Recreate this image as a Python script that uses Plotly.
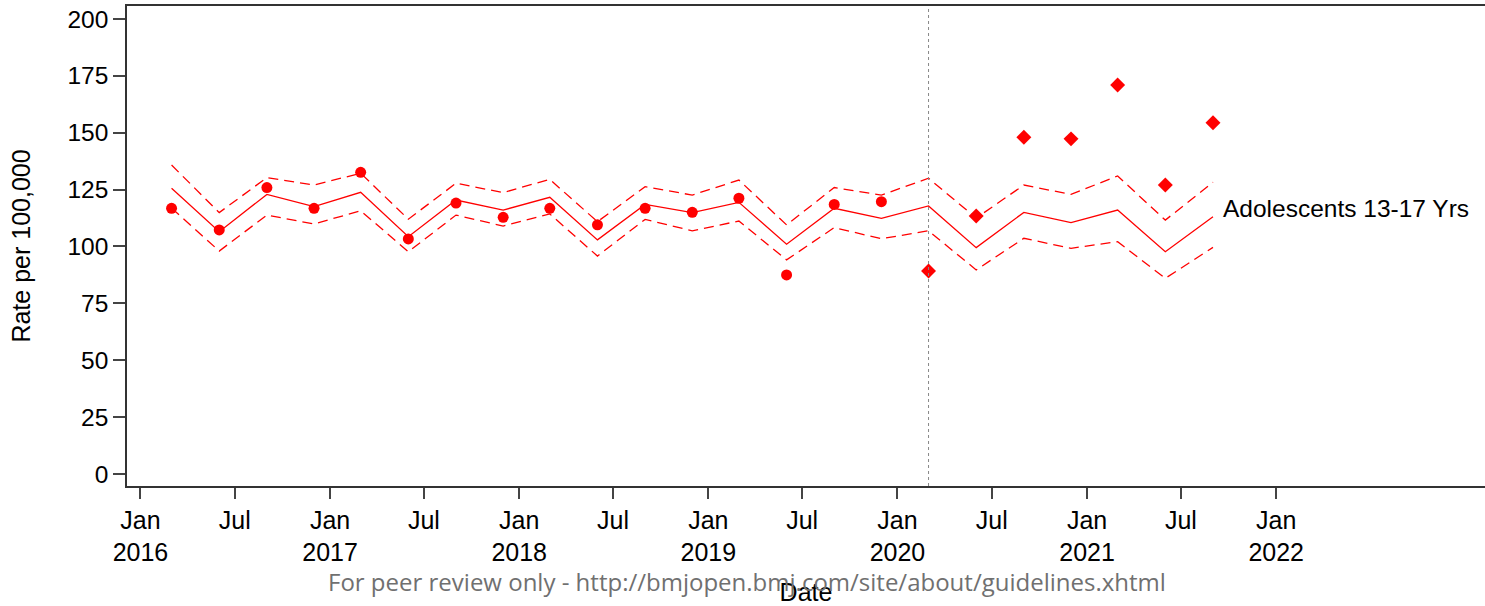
import pandas as pd
import plotly.graph_objects as go

# Quarterly rates per 100,000, adolescents aged 13-17
dates = pd.date_range("2016-03-01", periods=23, freq="3MS")

observed_pre = [116.8, 107.3, 125.9, 116.8, 132.6, 103.3, 119.1, 112.8,
                116.8, 109.5, 116.8, 115.0, 121.2, 87.5, 118.5, 119.7]
observed_post = [89.2, 113.4, 148.0, 147.3, 171.0, 127.0, 154.4]

predicted = [125.6, 106.5, 122.9, 117.5, 123.8, 104.3, 120.4, 116.0,
             121.6, 102.9, 118.5, 114.9, 119.4, 101.0, 116.8, 112.4,
             117.8, 99.5, 115.0, 110.5, 116.0, 97.7, 113.1]
upper = [135.8, 114.9, 130.3, 127.0, 132.2, 112.0, 127.8, 123.7,
         129.5, 110.9, 126.3, 122.6, 129.2, 109.5, 125.9, 122.6,
         130.0, 112.5, 127.0, 122.9, 131.0, 111.6, 128.2]
lower = [116.9, 98.0, 113.8, 109.9, 115.7, 97.7, 113.8, 109.0,
         114.3, 95.8, 111.9, 106.9, 111.2, 94.1, 108.3, 103.4,
         106.9, 89.7, 103.6, 99.2, 102.1, 86.0, 99.6]

tick_dates = pd.date_range("2016-01-01", "2022-01-01", freq="6MS")
tick_text = [f"Jan<br>{d.year}" if d.month == 1 else "Jul" for d in tick_dates]
y_ticks = [0, 25, 50, 75, 100, 125, 150, 175, 200]

pandemic_start = "2020-03-01"
series_label = "Adolescents 13-17 Yrs"

red = "#ff0000"
sans = "Liberation Sans, Arial, sans-serif"

n_pre = len(observed_pre)
fig = go.Figure()

fig.add_trace(go.Scatter(x=dates, y=upper, mode="lines",
                         line=dict(color=red, width=1.3, dash="10px,6px"),
                         hoverinfo="skip", showlegend=False))
fig.add_trace(go.Scatter(x=dates, y=lower, mode="lines",
                         line=dict(color=red, width=1.3, dash="10px,6px"),
                         hoverinfo="skip", showlegend=False))
fig.add_trace(go.Scatter(x=dates, y=predicted, mode="lines",
                         line=dict(color=red, width=1.3),
                         showlegend=False))
fig.add_trace(go.Scatter(x=dates[:n_pre], y=observed_pre, mode="markers",
                         marker=dict(color=red, size=11, symbol="circle"),
                         showlegend=False))
fig.add_trace(go.Scatter(x=dates[n_pre:], y=observed_post, mode="markers",
                         marker=dict(color=red, size=11.5, symbol="diamond"),
                         showlegend=False))

# Start of the pandemic period
fig.add_shape(type="line", xref="x", yref="paper",
              x0=pandemic_start, x1=pandemic_start, y0=0, y1=1,
              line=dict(color="#888888", width=1, dash="dot"))

fig.add_annotation(x="2021-09-17", y=116.5, xref="x", yref="y",
                   text=series_label, showarrow=False, xanchor="left",
                   font=dict(family=sans, size=24.5, color="#000000"))

# Plot area in pixels: left 127, right 1485, top 6, bottom 486
plot_l, plot_r, plot_t, plot_b = 127, 1485, 6, 486

fig.add_annotation(x=(747 - plot_l) / (plot_r - plot_l),
                   y=(plot_b - 581) / (plot_b - plot_t),
                   xref="paper", yref="paper", xanchor="center", yanchor="middle",
                   text="For peer review only - http://bmjopen.bmj.com/site/about/guidelines.xhtml",
                   showarrow=False,
                   font=dict(family="Open Sans, sans-serif", size=24, color="#707070"))

fig.update_layout(
    width=1485, height=606,
    margin=dict(l=plot_l, r=1485 - plot_r, t=plot_t, b=606 - plot_b),
    paper_bgcolor="white", plot_bgcolor="white",
    font=dict(family=sans, size=24, color="#000000"),
)

fig.update_xaxes(
    range=["2015-12-06", "2023-02-08"], automargin=False,
    tickmode="array", tickvals=tick_dates, ticktext=tick_text,
    ticks="outside", ticklen=11, tickwidth=1.5, tickcolor="#444444",
    showline=True, linecolor="#333333", linewidth=1.5, mirror=True,
    showgrid=False, zeroline=False,
    tickfont=dict(family=sans, size=25, color="#000000"),
    title=dict(text="Date", standoff=29,
               font=dict(family=sans, size=25, color="#000000")),
)
fig.update_yaxes(
    range=[-5.27, 205.7], automargin=False,
    tickmode="array", tickvals=y_ticks,
    ticks="outside", ticklen=12, tickwidth=1.5, tickcolor="#444444",
    showline=True, linecolor="#333333", linewidth=1.5,
    showgrid=False, zeroline=False,
    tickfont=dict(family=sans, size=24.5, color="#000000"),
    title=dict(text="Rate per 100,000", standoff=30,
               font=dict(family=sans, size=25, color="#000000")),
)

fig.write_html("out.html")
